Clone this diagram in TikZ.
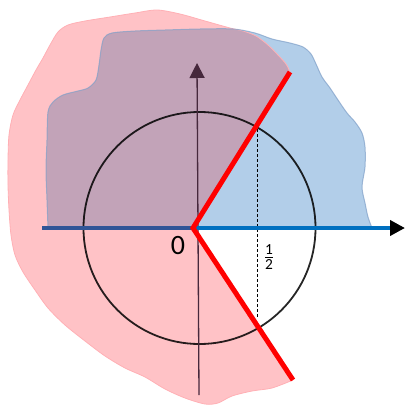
\documentclass[tikz,border=0pt]{standalone}
\usepackage{fontspec}
\setmainfont{Carlito}
\usepackage{amsmath}
\usetikzlibrary{arrows.meta}
\definecolor{pinkfill}{RGB}{255,194,198}
\definecolor{pinkedge}{RGB}{255,176,181}
\definecolor{bluefill}{RGB}{178,206,233}
\definecolor{mauvefill}{RGB}{194,163,184}
\definecolor{blueedge}{RGB}{128,160,200}
\definecolor{axisdark}{RGB}{47,85,151}
\definecolor{axislight}{RGB}{0,112,192}
\definecolor{vaxis}{RGB}{70,40,60}
\def\bluecurve{plot[smooth,tension=0.5] coordinates {(48,228) (47,200) (46,170) (47,140) (48,112) (53,102) (63,95) (78,91) (88,88) (96,80) (99,65) (101,50) (104,38) (112,33) (135,31) (165,30) (200,29) (233,29) (255,33) (272,39) (290,43) (303,47) (311,54) (316,64) (322,77) (330,88) (338,100) (347,113) (355,122) (362,133) (365,147) (365,167) (362,187) (365,203) (368,217) (372,228)}}
\def\pinkcurve{plot[smooth,tension=0.5] coordinates {(290,72) (286,64) (278,55) (268,45) (256,36) (243,31) (230,28) (205,21) (180,14) (157,10) (135,13) (110,17) (85,21) (68,25) (58,32) (50,45) (43,58) (36,70) (28,85) (20,100) (13,115) (9,135) (8,160) (8,185) (9,210) (11,235) (15,255) (23,272) (35,290) (48,308) (65,325) (85,341) (105,356) (125,368) (145,377) (165,389) (185,398) (205,404) (218,403) (232,396) (252,391) (272,388) (293,380)}}
\def\pinkpath{(193,228) -- plot[smooth,tension=0.5] coordinates {(290,72) (286,64) (278,55) (268,45) (256,36) (243,31) (230,28) (205,21) (180,14) (157,10) (135,13) (110,17) (85,21) (68,25) (58,32) (50,45) (43,58) (36,70) (28,85) (20,100) (13,115) (9,135) (8,160) (8,185) (9,210) (11,235) (15,255) (23,272) (35,290) (48,308) (65,325) (85,341) (105,356) (125,368) (145,377) (165,389) (185,398) (205,404) (218,403) (232,396) (252,391) (272,388) (293,380)} -- cycle}
\tikzset{
  redline/.style={red, line width=5pt, line join=miter},
  haxis/.style={line width=4.5pt},
  vaxisline/.style={vaxis, line width=1.3pt},
  tipstyle/.style={-{Triangle[length=15pt,width=15pt,color=#1]}},
  ucircle/.style={black, opacity=0.85, line width=1.8pt},
  dashline/.style={black, line width=0.9pt, dash pattern=on 3pt off 2pt},
}
\begin{document}
\begin{tikzpicture}[x=1pt,y=-1pt]
\useasboundingbox (0,0) rectangle (406,407);
\coordinate (O) at (193,228);
\coordinate (U) at (290,72);
\coordinate (L) at (293,380);
\coordinate (C) at (199.5,228);
\coordinate (Lft) at (42,228);
\coordinate (Rgt) at (405,228);
\coordinate (Vb) at (199,395);
\coordinate (Vt) at (197,63);
\coordinate (Dt) at (257,129);
\coordinate (Db) at (257,318);
% regions
\fill[bluefill] \bluecurve -- cycle;
\fill[pinkfill] \pinkpath;
\begin{scope}
  \clip \pinkpath;
  \fill[mauvefill] \bluecurve -- cycle;
\end{scope}
\draw[pinkedge, line width=0.8pt] \pinkcurve;
\draw[blueedge, line width=1pt, opacity=0.7] \bluecurve;
% circle and axes
\draw[ucircle] (C) circle[radius=116];
\draw[vaxisline, tipstyle=vaxis] (Vb) -- (Vt);
\draw[dashline] (Dt) -- (Db);
\draw[haxis, axisdark] (Lft) -- (O);
\draw[haxis, axislight, tipstyle=black] (O) -- (Rgt);
\draw[redline] (U) -- (O) -- (L);
% labels
\node[font=\fontsize{28}{28}\selectfont, inner sep=0pt] (zero) at (178,246) {0};
\node[font=\fontsize{22}{24}\selectfont, inner sep=0pt] (half) at (269,257) {$\frac{\text{1}}{\text{2}}$};
\end{tikzpicture}
\end{document}
